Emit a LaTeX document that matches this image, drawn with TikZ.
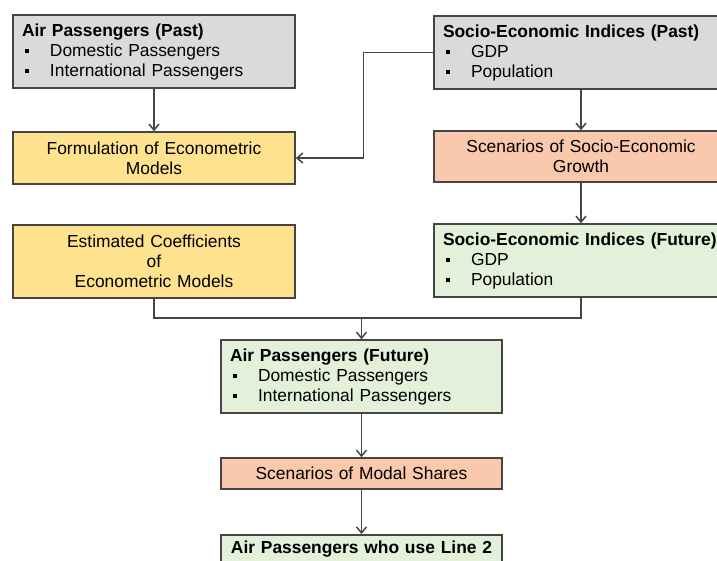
\documentclass[tikz,border=0pt]{standalone}
\usepackage{fontspec}
\setmainfont{Liberation Sans}
\usetikzlibrary{arrows.meta}

\definecolor{boxgray}{HTML}{DADADA}
\definecolor{boxgold}{HTML}{FFE28E}
\definecolor{boxpeach}{HTML}{FAC8AC}
\definecolor{boxmint}{HTML}{E3F0DA}
\definecolor{edgegray}{HTML}{454545}

\newcommand{\itm}[1]{\\\hspace*{3pt}\makebox[25pt][l]{\rule[3pt]{4pt}{4pt}}#1}

\begin{document}
\begin{tikzpicture}[x=1pt,y=-1pt,
    box/.style={draw=edgegray,line width=1.5pt,inner xsep=9pt,inner ysep=0pt,
        font=\fontsize{17.4}{20}\selectfont},
    listbox/.style={box,align=left,minimum height=73pt},
    midbox/.style={box,align=center},
    line/.style={draw=edgegray,line width=1.5pt},
    arr/.style={line,-{Straight Barb[length=6pt,width=10pt]}}]
    \useasboundingbox (0,0) rectangle (717,560);
    \clip (0,0) rectangle (717,560);

    \node[listbox,fill=boxgray,text width=264pt] (past) at (154,51.5)
        {\textbf{Air Passengers (Past)}\itm{Domestic Passengers}\itm{International Passengers}};
    \node[listbox,fill=boxgray,text width=276pt] (socpast) at (581,52.5)
        {\textbf{Socio-Economic Indices (Past)}\itm{GDP}\itm{Population}};

    \node[midbox,fill=boxgold,text width=264pt,minimum height=52pt] (formul) at (154,158)
        {Formulation of Econometric\\Models};
    \node[midbox,fill=boxpeach,text width=276pt,minimum height=51pt] (socscen) at (581,156.5)
        {Scenarios of Socio-Economic\\Growth};

    \node[midbox,fill=boxgold,text width=264pt,minimum height=73pt] (coeff) at (154,261.5)
        {Estimated Coefficients\\of\\Econometric Models};
    \node[listbox,fill=boxmint,text width=276pt] (socfut) at (581,260.5)
        {\textbf{Socio-Economic Indices (Future)}\itm{GDP}\itm{Population}};

    \node[listbox,fill=boxmint,text width=263pt] (future) at (361.5,376.5)
        {\textbf{Air Passengers (Future)}\itm{Domestic Passengers}\itm{International Passengers}};
    \node[midbox,fill=boxpeach,text width=263pt,minimum height=31pt] (modal) at (361.5,473.5)
        {Scenarios of Modal Shares};
    \node[midbox,fill=boxmint,text width=263pt,inner ysep=6pt,text depth=40pt,anchor=north] (line2) at (361.5,534)
        {\textbf{Air Passengers who use Line 2}};

    \draw[arr] (past) -- (formul);
    \draw[arr] (socpast.west) -- ++(-70,0) |- (formul.east);
    \draw[arr] (socpast) -- (socscen);
    \draw[arr] (socscen) -- (socfut);
    \coordinate (merge) at (361.5,318);
    \draw[line] (coeff.south) |- (merge);
    \draw[line] (socfut.south) |- (merge);
    \draw[arr] (merge) -- (future);
    \draw[arr] (future) -- (modal);
    \draw[arr] (modal) -- (line2);
\end{tikzpicture}
\end{document}
